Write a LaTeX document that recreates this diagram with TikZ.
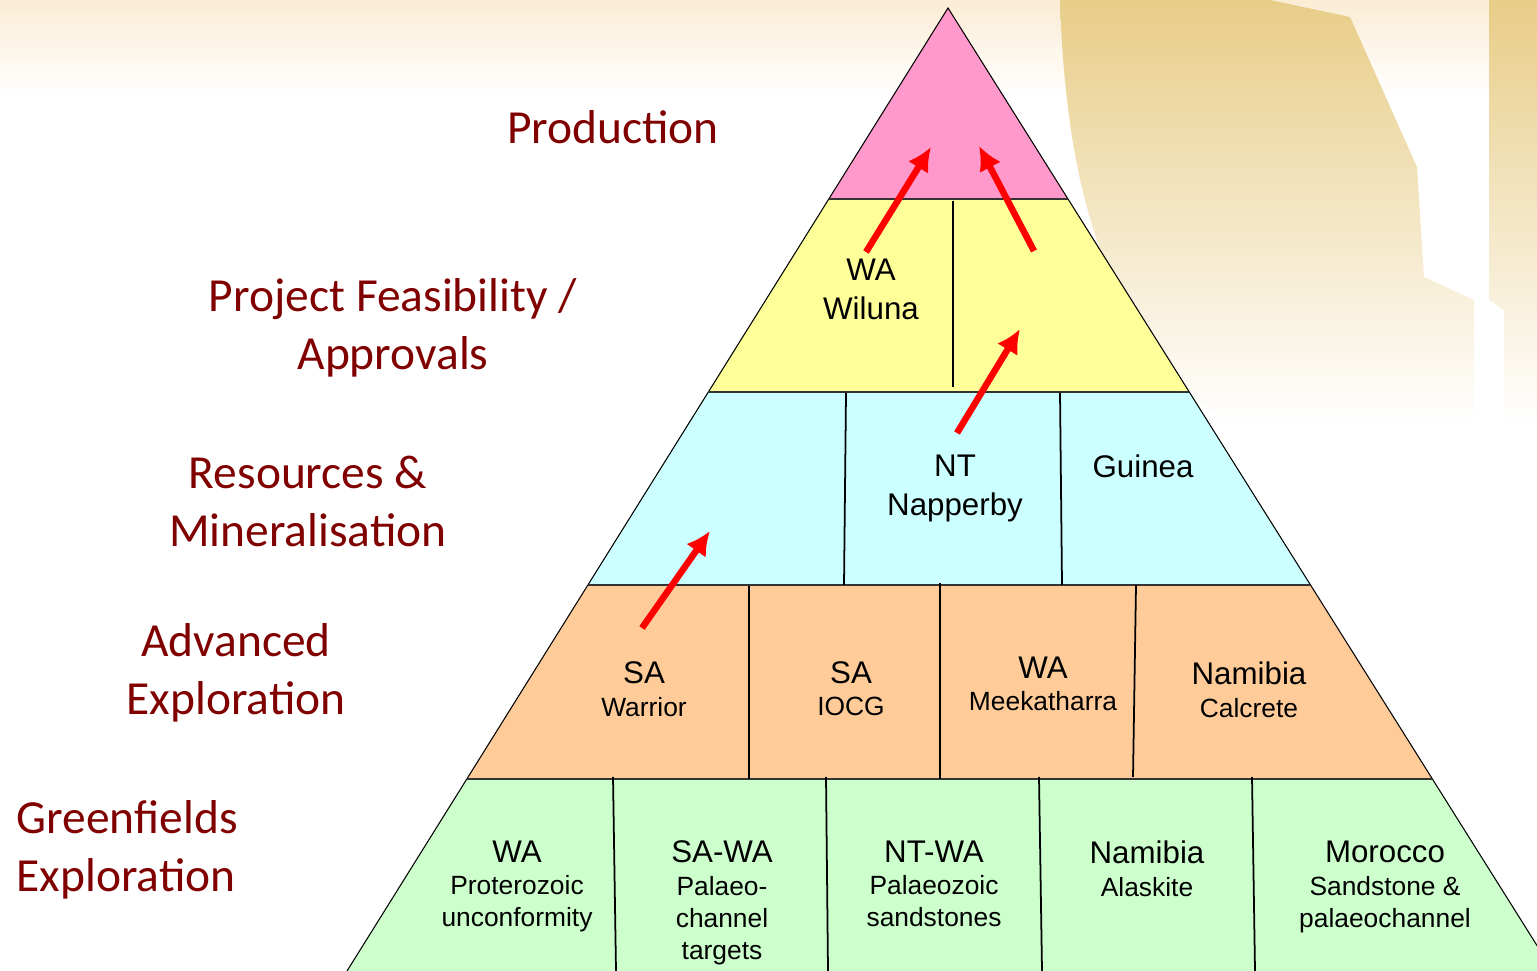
\documentclass[tikz,border=0pt]{standalone}
\usepackage{fontspec}
\setmainfont{Liberation Sans}
\newfontfamily\stagefont{Carlito}
\usetikzlibrary{arrows.meta,positioning}
\definecolor{stagered}{HTML}{800000}
\definecolor{prodpink}{HTML}{FF99CC}
\definecolor{feasyellow}{HTML}{FFFF99}
\definecolor{rescyan}{HTML}{CCFFFF}
\definecolor{advorange}{HTML}{FFCC99}
\definecolor{greenfld}{HTML}{CCFFCC}
\definecolor{cream}{HTML}{FBECD4}
\definecolor{gold}{HTML}{E8CD88}
\newcommand{\mainsz}{\fontsize{8.9}{11.1}\selectfont}
\newcommand{\subsz}{\fontsize{7.5}{9.1}\selectfont}
\newcommand{\stagesz}{\stagefont\fontsize{13.5}{16.5}\selectfont}
\tikzset{
    side/.style={draw=black, line width=0.3pt},
    tier/.style={draw=black!80, line width=0.6pt},
    split/.style={draw=black, line width=0.5pt},
    head/.style={font=\mainsz, inner sep=0pt, align=center, anchor=north},
    sub/.style={font=\subsz, inner sep=0pt, align=center, below=0.12cm of #1},
    stage/.style={font=\stagesz, text=stagered, inner sep=0pt, align=center, anchor=north},
    advance/.style={->,> = {Latex[length=6.8pt,width=6.8pt]}, draw=red, line width=1.85pt},
}

\begin{document}
\begin{tikzpicture}[x=0.01cm, y=-0.01cm]
    \useasboundingbox (0,0) rectangle (1537,971);
    \clip (0,0) rectangle (1537,971);
    % backdrop
    \shade[top color=cream, bottom color=white] (0,0) rectangle (1537,95);
    \shade[top color=gold, bottom color=white] (1060,0) .. controls (1066,190) and (1105,330) .. (1225,425)
        -- (1474,425) -- (1474,300) -- (1424,277) -- (1417,167) -- (1350,17) -- (1270,0) -- cycle;
    \shade[top color=gold, bottom color=white] (1489,0) -- (1537,0) -- (1537,425) -- (1504,425)
        -- (1504,310) -- (1489,300) -- cycle;

    % pyramid tiers
    \fill[prodpink] (948,8) -- (1068,199) -- (829,199) -- cycle;
    \fill[feasyellow] (829,199) -- (1068,199) -- (1189,392) -- (708,392) -- cycle;
    \fill[rescyan] (708,392) -- (1189,392) -- (1310,585) -- (588,585) -- cycle;
    \fill[advorange] (588,585) -- (1310,585) -- (1432,779) -- (467,779) -- cycle;
    \fill[greenfld] (467,779) -- (1432,779) -- (1553,971) -- (347,971) -- cycle;
    \draw[side] (347,971) -- (948,8) -- (1553,971);
    \foreach \yy/\xl/\xr in {199/829/1068, 392/708/1189, 585/588/1310, 779/467/1432}
        \draw[tier] (\xl,\yy) -- (\xr,\yy);
    \foreach \xa/\ya/\xb/\yb in {953/201/953/387, 846/393/844/585, 1060/393/1062/585,
        749/586/749/779, 940/583/940/779, 1136/585/1133/777,
        613/777/616/971, 826/777/828/971, 1039/777/1042/971, 1252/777/1255/971}
        \draw[split] (\xa,\ya) -- (\xb,\yb);

    % stage names
    \node[stage] (production) at (613,110) {Production};
    \node[stage] (feasibility) at (393,278) {Project Feasibility /\\Approvals};
    \node[stage] (resources) at (308,455) {Resources \&\\Mineralisation};
    \node[stage] (advanced) at (236,623) {Advanced\\Exploration};
    \node[stage, align=left, anchor=north west] (greenfields) at (16,800) {Greenfields\\Exploration};

    % projects
    \node[head] (wiluna) at (871,258) {WA\\Wiluna};
    \node[head] (napperby) at (955,454) {NT\\Napperby};
    \node[head] (guinea) at (1143,454) {Guinea};
    \node[head] (warrior) at (644,661) {SA};
    \node[sub=warrior] (warriorsub) {Warrior};
    \node[head] (iocg) at (851,661) {SA};
    \node[sub=iocg] (iocgsub) {IOCG};
    \node[head] (meeka) at (1043,656) {WA};
    \node[sub=meeka] (meekasub) {Meekatharra};
    \node[head] (calcrete) at (1249,661) {Namibia};
    \node[sub=calcrete] (calcretesub) {Calcrete};
    \node[head] (protero) at (517,840) {WA};
    \node[sub=protero] (proterosub) {Proterozoic\\unconformity};
    \node[head] (channel) at (722,840) {SA-WA};
    \node[sub=channel] (channelsub) {Palaeo-\\channel\\targets};
    \node[head] (palaeo) at (934,840) {NT-WA};
    \node[sub=palaeo] (palaeosub) {Palaeozoic\\sandstones};
    \node[head] (alaskite) at (1147,840) {Namibia};
    \node[sub=alaskite] (alaskitesub) {Alaskite};
    \node[head] (morocco) at (1385,840) {Morocco};
    \node[sub=morocco] (moroccosub) {Sandstone \&\\palaeochannel};

    % progress arrows
    \coordinate (wilunaFrom) at (866,252);
    \coordinate (wilunaTo) at (931,147);
    \coordinate (feasFrom) at (1034,251);
    \coordinate (feasTo) at (979,146);
    \coordinate (napperbyFrom) at (957,433);
    \coordinate (napperbyTo) at (1020,329);
    \coordinate (warriorFrom) at (642,628);
    \coordinate (warriorTo) at (710,531);
    \draw[advance] (wilunaFrom) -- (wilunaTo);
    \draw[advance] (feasFrom) -- (feasTo);
    \draw[advance] (napperbyFrom) -- (napperbyTo);
    \draw[advance] (warriorFrom) -- (warriorTo);
\end{tikzpicture}
\end{document}
